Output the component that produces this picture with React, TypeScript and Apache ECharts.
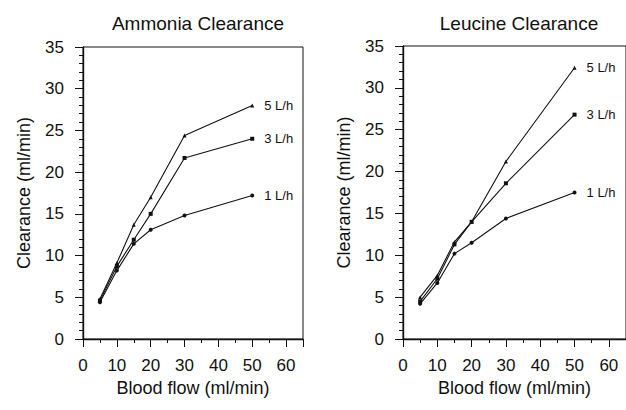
import React, { useEffect, useRef } from "react";
import * as echarts from "echarts";

const flow = [5, 10, 15, 20, 30, 50];
const ammonia5 = [4.8, 9.1, 13.7, 17.0, 24.4, 28.0];
const ammonia3 = [4.6, 8.7, 11.9, 15.0, 21.7, 24.0];
const ammonia1 = [4.4, 8.2, 11.4, 13.1, 14.8, 17.2];
const leucine5 = [5.0, 7.6, 11.6, 14.0, 21.2, 32.4];
const leucine3 = [4.5, 7.2, 11.3, 14.0, 18.6, 26.8];
const leucine1 = [4.2, 6.7, 10.2, 11.5, 14.4, 17.5];
const titles = ["Ammonia Clearance", "Leucine Clearance"];
const seriesNames = ["5 L/h", "3 L/h", "1 L/h"];

const FONT = "Liberation Sans, Arial, sans-serif";
const INK = "#111";

export default function App() {
  const ref = useRef<HTMLDivElement>(null);
  useEffect(() => {
    if (!ref.current) return;
    const chart = echarts.init(ref.current, undefined, { renderer: "svg" });
    const grids = [
      { left: 83, top: 47, width: 220, height: 292 },
      { left: 403, top: 46, width: 224, height: 293 },
    ];
    const mkX = (i: number) => ({
      type: "value",
      gridIndex: i,
      min: 0,
      max: 65,
      interval: 10,
      name: "Blood flow (ml/min)",
      nameLocation: "middle",
      nameGap: 40,
      nameTextStyle: { fontFamily: FONT, fontSize: 18, color: INK },
      axisLine: { show: true, lineStyle: { color: INK, width: 1.4 } },
      axisTick: { show: true, inside: false, length: 8, lineStyle: { color: INK } },
      minorTick: { show: true, splitNumber: 2, length: 4, lineStyle: { color: INK } },
      axisLabel: {
        fontFamily: FONT,
        fontSize: 17,
        color: INK,
        margin: 18,
        showMaxLabel: false,
        formatter: (v: number) => (v > 60 ? "" : String(v)),
      },
      splitLine: { show: false },
    });
    const mkY = (i: number) => ({
      type: "value",
      gridIndex: i,
      min: 0,
      max: 35,
      interval: 5,
      name: "Clearance (ml/min)",
      nameLocation: "middle",
      nameGap: 50,
      nameTextStyle: { fontFamily: FONT, fontSize: 18, color: INK },
      axisLine: { show: true, lineStyle: { color: INK, width: 1.4 } },
      axisTick: { show: true, inside: false, length: 8, lineStyle: { color: INK } },
      minorTick: { show: true, splitNumber: 5, length: 4, lineStyle: { color: INK } },
      axisLabel: { fontFamily: FONT, fontSize: 17, color: INK, margin: 19 },
      splitLine: { show: false },
    });
    const symbols = ["triangle", "rect", "circle"];
    const mkSeries = (i: number, vals: number[][]) =>
      vals.map((arr, k) => ({
        type: "line",
        name: seriesNames[k] + i,
        xAxisIndex: i,
        yAxisIndex: i,
        symbol: symbols[k],
        symbolSize: 4,
        showSymbol: true,
        lineStyle: { color: INK, width: 1.1 },
        itemStyle: { color: INK },
        data: arr.map((y, j) =>
          j === arr.length - 1
            ? {
                value: [flow[j], y],
                label: {
                  show: true,
                  position: "right",
                  distance: 10,
                  formatter: seriesNames[k],
                  fontFamily: FONT,
                  fontSize: 13,
                  color: INK,
                },
              }
            : { value: [flow[j], y] }
        ),
      }));
    chart.setOption({
      animation: false,
      backgroundColor: "#fff",
      title: titles.map((t, i) => ({
        text: t,
        left: grids[i].left + (i === 0 ? grids[i].width / 2 : 222 / 2),
        textAlign: "center",
        top: 9,
        textStyle: { fontFamily: FONT, fontSize: 19, fontWeight: "normal", color: INK },
      })),
      grid: grids.map((g) => ({
        ...g,
        show: true,
        borderColor: INK,
        borderWidth: 1,
        backgroundColor: "transparent",
      })),
      xAxis: [mkX(0), mkX(1)],
      yAxis: [mkY(0), mkY(1)],
      series: [
        ...mkSeries(0, [ammonia5, ammonia3, ammonia1]),
        ...mkSeries(1, [leucine5, leucine3, leucine1]),
      ],
    });
    return () => chart.dispose();
  }, []);
  return <div ref={ref} style={{ width: 626, height: 410, position: "absolute", left: 0, top: 0 }} />;
}
